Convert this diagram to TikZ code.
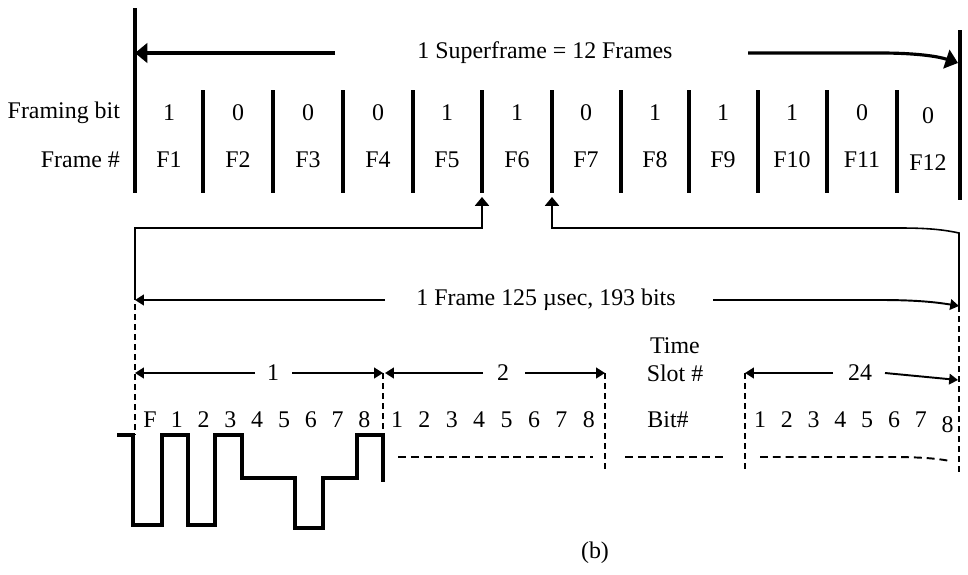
\documentclass[tikz,border=0pt]{standalone}
\usepackage{fontspec}
\setmainfont{Liberation Serif}
\usetikzlibrary{positioning, calc, arrows.meta}

\tikzset{
  lbl/.style={font=\fontsize{13.6}{16}\selectfont, inner sep=1pt},
  divider/.style={line width=2.3pt},
  bigarrow/.style={line width=1.8pt, -{Triangle[length=7pt, width=11pt]}},
  midarrow/.style={line width=1.1pt, -{Triangle[length=5pt, width=6pt]}},
  bracket/.style={line width=0.9pt},
  tipup/.style={-{Triangle[length=5pt, width=8pt]}},
  dashv/.style={line width=1.1pt, dash pattern=on 3.4pt off 2.3pt},
  dashh/.style={line width=1.1pt, dash pattern=on 4.5pt off 2.8pt},
  wave/.style={line width=2pt, line join=miter},
}

\begin{document}
\begin{tikzpicture}[x=0.02cm, y=-0.02cm]
  \useasboundingbox (0,0) rectangle (968,575);

  % Superframe borders and frame dividers
  \coordinate (barLtop) at (135,8);
  \coordinate (barLbot) at (135,193);
  \coordinate (barRtop) at (960,30);
  \coordinate (barRbot) at (960,200);
  \draw[divider] (barLtop) -- (barLbot);
  \draw[divider] (barRtop) -- (barRbot);
  \foreach \dx [count=\i] in {203,273,343,413,482,552,621,689,758,827,897} {
    \coordinate (dtop\i) at (\dx,90);
    \coordinate (dbot\i) at (\dx,193);
    \draw[divider] (dtop\i) -- (dbot\i);
  }

  % Superframe arrow
  \node[lbl] (sf) at (545,53) {1 Superframe = 12 Frames};
  \coordinate (sfL) at (335,53);
  \coordinate (sfLtip) at (135,53);
  \coordinate (sfR) at (748,53);
  \coordinate (sfRtip) at (958,63);
  \draw[bigarrow] (sfL) -- (sfLtip);
  \draw[bigarrow] (sfR) -- (880,53) .. controls (920,53) and (940,57) .. (sfRtip);

  % Framing bits and frame numbers
  \node[lbl, anchor=east] (fbit) at (122,113) {Framing bit};
  \node[lbl, anchor=east] (fnum) at (122,160) {Frame \#};
  \foreach \fx/\fy/\fb/\fn [count=\i] in {169/0/1/F1, 238/0/0/F2, 308/0/0/F3,
      378/0/0/F4, 447/0/1/F5, 517/0/1/F6, 586/0/0/F7, 655/0/1/F8, 723/0/1/F9,
      792/0/1/F10, 862/0/0/F11, 928/3/0/F12} {
    \node[lbl] (bit\i) at (\fx,113+\fy) {\fb};
    \node[lbl] (fr\i) at (\fx,160+\fy) {\fn};
  }

  % Bracket from F6 to one frame
  \coordinate (tipA) at (482,197);
  \coordinate (tipB) at (552,197);
  \coordinate (brY) at (0,228);
  \coordinate (fL) at (135,300);
  \coordinate (fR) at (959,306);
  \draw[bracket, tipup] (fL) |- (tipA |- brY) -- (tipA);
  \draw[bracket, tipup] (fR) -- (959,233) .. controls (945,230) and (930,228) .. (900,228)
    -- (tipB |- brY) -- (tipB);

  % One frame arrow
  \node[lbl] (fr) at (546,300) {1 Frame 125 µsec, 193 bits};
  \coordinate (frLs) at (385,300);
  \coordinate (frRs) at (713,300);
  \draw[midarrow] (frLs) -- (fL);
  \draw[midarrow] (frRs) -- (880,300) .. controls (915,300) and (935,302) .. (fR);

  % Time slot arrows
  \node[lbl] (ts1) at (273,373) {1};
  \node[lbl] (ts2) at (503,373) {2};
  \node[lbl] (ts24) at (860,373) {24};
  \node[lbl] (time) at (675,346) {Time};
  \node[lbl] (slot) at (675,373) {Slot \#};
  \coordinate (s0) at (135,373);
  \coordinate (s1) at (383,373);
  \coordinate (s1b) at (385,373);
  \coordinate (s2) at (605,373);
  \coordinate (s23) at (745,373);
  \coordinate (s24) at (958,380);
  \draw[midarrow] (255,373) -- (s0);
  \draw[midarrow] (292,373) -- (s1);
  \draw[midarrow] (483,373) -- (s1b);
  \draw[midarrow] (525,373) -- (s2);
  \draw[midarrow] (833,373) -- (s23);
  \draw[midarrow] (885,373) -- (s24);

  % Dashed slot borders
  \draw[dashv] (fL) ++(0,4) -- (135,435);
  \draw[dashv] (fR) -- (959,475);
  \draw[dashv] (s1) -- (383,435);
  \draw[dashv] (s2) -- (605,472);
  \draw[dashv] (s23) -- (745,472);

  % Bit numbers
  \foreach \b [count=\i from 0] in {F,1,2,3,4,5,6,7,8}
    \node[lbl] (ba\i) at (150+26.8*\i,420) {\b};
  \foreach \b [count=\i from 0] in {1,2,3,4,5,6,7,8}
    \node[lbl] (bb\i) at (397+27.4*\i,420) {\b};
  \foreach \b/\by [count=\i from 0] in {1/0,2/0,3/0,4/0,5/0,6/0,7/0,8/5}
    \node[lbl] (bc\i) at (760+26.8*\i,420+\by) {\b};
  \node[lbl] (bitn) at (668,420) {Bit\#};

  % Waveform of slot 1
  \draw[wave] (117,435) -- (133,435) -- (133,525) -- (162,525) -- (162,435)
    -- (188,435) -- (188,525) -- (215,525) -- (215,435) -- (242,435)
    -- (242,478) -- (295,478) -- (295,528) -- (323,528) -- (323,478)
    -- (357,478) -- (357,435) -- (383,435) -- (383,482);

  % Remaining slots
  \draw[dashh] (398,457) -- (593,457);
  \draw[dashh] (625,457) -- (727,457);
  \draw[dashh] (760,457) -- (890,457) .. controls (915,457) and (935,458) .. (950,461);

  \node[lbl] (cap) at (595,553) {(b)};
\end{tikzpicture}
\end{document}
